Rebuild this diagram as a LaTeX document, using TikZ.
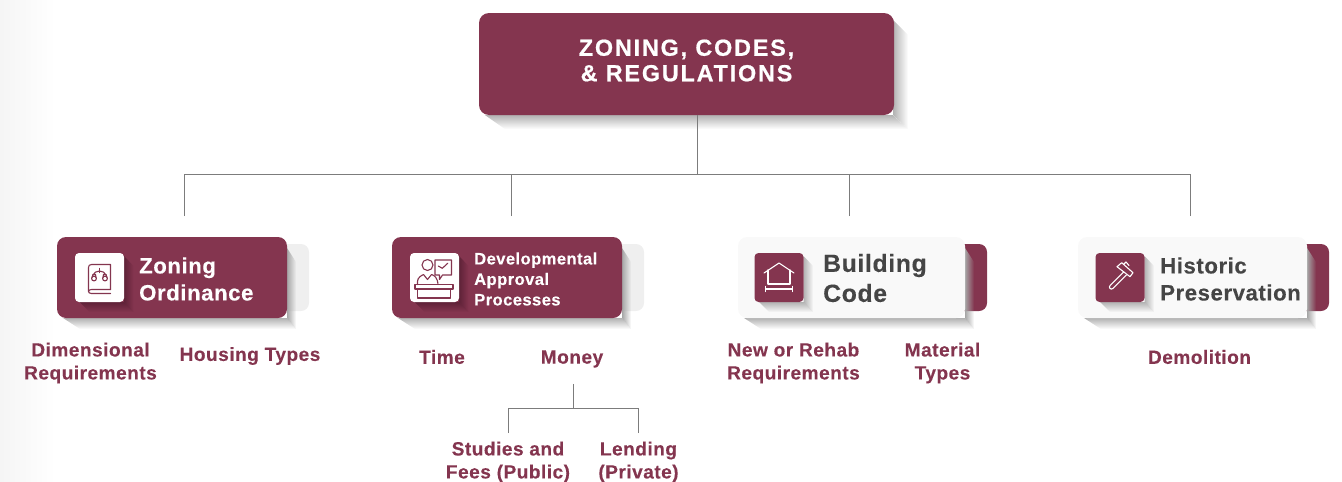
\documentclass[tikz,border=0pt]{standalone}
\usepackage{fontspec}
\setmainfont{Liberation Sans}
\newfontfamily\widefont[LetterSpace=8,FakeBold=0.7]{Liberation Sans Bold}
\newfontfamily\labelfont[LetterSpace=2.5,BoldFeatures={FakeBold=0.2}]{Liberation Sans}
\usetikzlibrary{positioning,fadings}
\definecolor{wine}{HTML}{84354F}
\definecolor{winedark}{HTML}{5F2238}
\definecolor{inkgrey}{HTML}{454545}
\definecolor{linegrey}{HTML}{7C7C7C}
\definecolor{cardwhite}{HTML}{F9F9F9}
\definecolor{backgrey}{HTML}{EFEFEF}
\tikzset{
  link/.style={draw=linegrey,line width=1pt},
  item/.style={text=wine,font=\labelfont\bfseries\fontsize{19.1}{23}\selectfont,align=center,inner sep=0pt},
  cardtext/.style={font=\labelfont\bfseries\fontsize{22.2}{27}\selectfont,align=left,inner sep=0pt,anchor=west},
  iconline/.style={line width=1.1pt,line join=round,line cap=round},
  castright/.style={fill=#1,path fading=east},
  castdown/.style={fill=#1,path fading=south},
  cardbox/.style={rounded corners=9pt,minimum width=#1,minimum height=81pt,inner sep=0pt},
  tile/.style={rounded corners=4pt,minimum size=49pt,inner sep=0pt}
}
\begin{document}
\begin{tikzpicture}[x=1pt,y=-1pt]
  \useasboundingbox (0,0) rectangle (1342,482);
  \shade[left color=black!4,right color=white] (0,0) rectangle (55,482);

  % title
  \fill[castdown=black!30] (485,115) -- (893,115) -- (908,129) -- (505,129) -- cycle;
  \fill[castright=black!30] (893,20) -- (908,35) -- (908,129) -- (893,115) -- cycle;
  \node[fill=wine,rounded corners=10pt,minimum width=415pt,minimum height=102pt,inner sep=0pt] (title) at (686.5,64) {};
  \node[text=white,align=center,inner sep=0pt,font=\widefont\fontsize{23.3}{25.5}\selectfont] (titletext) at (686.5,60.5)
    {ZONING, CODES,\\\& REGULATIONS};

  % shadows and back plates of the cards
  \foreach \x/\w/\pl in {57/230/backgrey,392/230/backgrey,738/227/wine,1078/229/wine}{
    \fill[\pl,rounded corners=8pt] (\x+\w-25,244) rectangle (\x+\w+22,311);
    \fill[castdown=black!30] (\x+6,318) -- (\x+\w,318) -- (\x+\w+9,329) -- (\x+23,329) -- cycle;
    \fill[castright=black!35] (\x+\w,248) -- (\x+\w+9,262) -- (\x+\w+9,329) -- (\x+\w,318) -- cycle;
  }

  % cards
  \node[cardbox=230pt,fill=wine] (zoning) at (172,277.5) {};
  \node[cardbox=230pt,fill=wine] (approval) at (507,277.5) {};
  \node[cardbox=227pt,fill=cardwhite] (building) at (851.5,277.5) {};
  \node[cardbox=229pt,fill=cardwhite] (historic) at (1192.5,277.5) {};

  % icon tile shadows
  \foreach \cx/\sh in {99.5/winedark,434.5/winedark,779/black!30,1120/black!30}{
    \fill[castright=\sh] (\cx+24.5,256) -- (\cx+34,266) -- (\cx+34,312) -- (\cx+24.5,302) -- cycle;
    \fill[castdown=\sh] (\cx-20,302) -- (\cx+24.5,302) -- (\cx+34,312) -- (\cx-10,312) -- cycle;
  }

  % icon tiles
  \node[tile,fill=white] (zoningicon) at (99.5,277.5) {};
  \node[tile,fill=white] (approvalicon) at (434.5,277.5) {};
  \node[tile,fill=wine] (buildingicon) at (779,277.5) {};
  \node[tile,fill=wine] (historicicon) at (1120,277.5) {};

  % icon: book with scales
  \begin{scope}[shift={(zoningicon.center)},draw=wine,iconline]
    \draw (11,12) -- (-8,12) .. controls (-12,12) and (-12,16) .. (-8,16) -- (11,16);
    \draw (-11,14) -- (-11,-10) .. controls (-11,-12) and (-10,-13) .. (-8,-13) -- (11,-13) -- (11,12);
    \draw (-7,-2) .. controls (-4,-8) and (4,-8) .. (7,-2);
    \draw (0,-9) -- (0,-5);
    \draw (-5.5,1) circle (2.4pt) (5.5,1) circle (2.4pt);
    \draw (-7.5,0) -- (-6.5,-3) -- (-4,-3) -- (-3.5,0);
    \draw (7.5,0) -- (6.5,-3) -- (4,-3) -- (3.5,0);
  \end{scope}

  % icon: person at a desk
  \begin{scope}[shift={(approvalicon.center)},draw=wine,iconline]
    \draw (-7,-12.5) circle (5.5pt);
    \draw (-17,7) -- (-17,4) .. controls (-17,0) and (-13,-2) .. (-11,-3) -- (-7,2) -- (-3,-3) .. controls (0,-2) and (3,0) .. (3.5,7);
    \draw (-19.5,7) -- (18.5,7) -- (18.5,11.5) -- (-19.5,11.5) -- cycle;
    \draw (-17,11.5) -- (-17,20.5) -- (16,20.5) -- (16,11.5);
    \draw (0.5,-17.5) -- (17,-17.5) -- (17,-2.5) -- (8,-2.5) -- (5,2) -- (5,-2.5) -- (0.5,-2.5) -- cycle;
    \draw (3.8,-11.5) -- (7.8,-9.2) -- (13.2,-14.2);
  \end{scope}

  % icon: house
  \begin{scope}[shift={(buildingicon.center)},draw=white,iconline]
    \draw (-15,-4.5) -- (0,-14.5) -- (15,-4.5);
    \draw (-11,-7.5) -- (-11,6.5) -- (11,6.5) -- (11,-7.5);
    \draw (-13.5,11.5) -- (13.5,11.5) (-13.5,9) -- (-13.5,14) (13.5,9) -- (13.5,14);
  \end{scope}

  % icon: hammer
  \begin{scope}[shift={(historicicon.center)},draw=white,iconline]
    \draw[rounded corners=2pt] (6.4,-2.6) -- (-8.6,12.4) -- (-11.4,9.6) -- (3.6,-5.4);
    \draw (-3,-10.8) -- (1.7,-14.8) -- (13,-4.8) -- (10,-0.8) -- cycle;
    \draw (3.5,-13) -- (6,-15.5) -- (9,-12);
  \end{scope}

  % card titles
  \node[cardtext,text=white] (zoningtext) at (139,279) {Zoning\\Ordinance};
  \node[cardtext,text=white,font=\labelfont\bfseries\fontsize{16.6}{20.5}\selectfont] (approvaltext) at (474,279) {Developmental\\Approval\\Processes};
  \node[cardtext,text=inkgrey,font=\labelfont\bfseries\fontsize{24.8}{30}\selectfont] (buildingtext) at (823,278) {Building\\Code};
  \node[cardtext,text=inkgrey] (historictext) at (1160,279) {Historic\\Preservation};

  % items
  \node[item] (dimensional) at (90.5,363) {Dimensional\\Requirements};
  \node[item] (housing) at (250,356) {Housing Types};
  \node[item] (time) at (442,357) {Time};
  \node[item] (money) at (572,359) {Money};
  \node[item] (rehab) at (793.5,363) {New or Rehab\\Requirements};
  \node[item] (material) at (942.5,363) {Material\\Types};
  \node[item] (demolition) at (1199.5,357) {Demolition};
  \node[item] (studies) at (508,462) {Studies and\\Fees (Public)};
  \node[item] (lending) at (638.5,462) {Lending\\(Private)};

  % connectors
  \coordinate (hub) at (697.5,174.5);
  \coordinate (moneyhub) at (573.5,408.5);
  \coordinate (zoningend) at (184.5,216);
  \coordinate (approvalend) at (511.5,216);
  \coordinate (buildingend) at (849.5,216);
  \coordinate (historicend) at (1190.5,216);
  \coordinate (studiesend) at (508.5,433);
  \coordinate (lendingend) at (638.5,433);
  \draw[link] (hub |- title.south) -- (hub);
  \draw[link] (zoningend) |- (hub);
  \draw[link] (approvalend) |- (hub);
  \draw[link] (buildingend) |- (hub);
  \draw[link] (historicend) |- (hub);
  \draw[link] (moneyhub |- money.south) ++(0,16) -- (moneyhub);
  \draw[link] (studiesend) |- (moneyhub);
  \draw[link] (lendingend) |- (moneyhub);
\end{tikzpicture}
\end{document}
